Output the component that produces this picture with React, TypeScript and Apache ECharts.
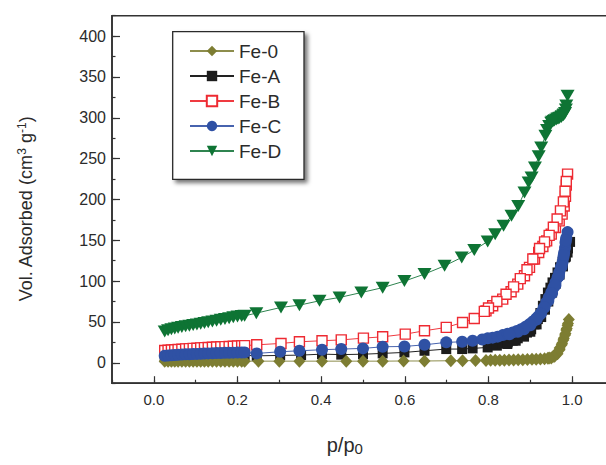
import React, { useEffect, useRef } from "react";
import * as echarts from "echarts";

// ---- Data ----
const seriesNames = ["Fe-0", "Fe-A", "Fe-B", "Fe-C", "Fe-D"];

const pFe0 = [0.026,0.034,0.042,0.05,0.058,0.067,0.076,0.085,0.094,0.103,0.112,0.121,0.13,0.14,0.15,0.16,0.17,0.18,0.19,0.2,0.21,0.217,0.25,0.3,0.348,0.402,0.46,0.5,0.547,0.597,0.647,0.71,0.738,0.769,0.794,0.805,0.816,0.827,0.838,0.849,0.86,0.871,0.882,0.893,0.904,0.914,0.924,0.934,0.942,0.95,0.958,0.965,0.97,0.975,0.979,0.983,0.986,0.989,0.992,0.99,0.987,0.984,0.98,0.976,0.97,0.963,0.955,0.945];
const vFe0 = [2,2,2,2,2,2,2,2,2,2,2,2,2,2,2,2,2,2,2,2,2,2,2,2,2,2,2,2,2,2.2,2.2,2.5,2.5,2.7,2.8,3,3,3,3.2,3.3,3.5,3.6,3.8,4,4.2,4.4,4.6,5,5.5,6,8,11,16,22,28,34,40,46,53,48,42,36,30,24,18,12,8,6];

const pFeA = [0.026,0.034,0.042,0.05,0.058,0.067,0.076,0.085,0.094,0.103,0.112,0.121,0.13,0.14,0.15,0.16,0.17,0.18,0.19,0.2,0.21,0.217,0.246,0.302,0.352,0.402,0.448,0.5,0.547,0.599,0.647,0.699,0.737,0.762,0.798,0.82,0.834,0.846,0.858,0.87,0.882,0.892,0.902,0.91,0.918,0.924,0.93,0.936,0.942,0.948,0.953,0.959,0.965,0.971,0.977,0.983,0.989,0.995,0.99,0.985,0.978,0.97,0.961,0.952,0.943,0.935,0.926,0.915,0.9,0.885,0.865,0.845];
const vFeA = [6.5,6.8,7,7.2,7.3,7.5,7.6,7.8,7.9,8,8.1,8.2,8.3,8.4,8.5,8.6,8.7,8.8,8.9,9,9,9.1,8.5,9,9.4,10.6,10,10.5,11.5,12.7,14.7,16.8,16.8,17.6,18.8,21,23.7,25,27,30,33,37,41,47,53.5,61,69.8,78,86,92,98.4,104,110.6,117,123,129,135,148,140,130,118,108,97,86,75,65,56,47,38,32,27,23];

const pFeB = [0.026,0.034,0.042,0.05,0.058,0.067,0.076,0.085,0.094,0.103,0.112,0.121,0.13,0.14,0.15,0.16,0.17,0.18,0.19,0.2,0.21,0.217,0.246,0.304,0.348,0.402,0.448,0.501,0.547,0.601,0.647,0.699,0.738,0.766,0.794,0.81,0.834,0.854,0.87,0.886,0.898,0.91,0.92,0.93,0.939,0.95,0.96,0.969,0.976,0.981,0.984,0.986,0.989,0.986,0.983,0.979,0.972,0.964,0.955,0.945,0.934,0.922,0.906,0.892,0.876,0.86,0.842,0.82,0.8,0.79];
const vFeB = [15,15.3,15.6,16,16.2,16.5,17,17.3,17.6,17.8,18.2,18.5,18.8,19,19.3,19.6,19.8,20,20.3,20.6,20.8,21,22,23.7,25.7,27,28,30.2,31.8,35.1,39.2,43.3,49.4,54.3,63.6,69.8,78,87,96.3,106.5,116.8,127,135,142.4,149.3,157.5,165.7,173.8,182,192,204,217.5,231,222,210,197,186,176,166,156,148,140,127,114,103,93,84,75,67,63];

const pFeC = [0.026,0.034,0.042,0.05,0.058,0.067,0.076,0.085,0.094,0.103,0.112,0.121,0.13,0.14,0.15,0.16,0.17,0.18,0.19,0.2,0.21,0.217,0.246,0.302,0.348,0.402,0.448,0.5,0.547,0.599,0.647,0.699,0.737,0.762,0.785,0.798,0.81,0.822,0.834,0.846,0.858,0.868,0.878,0.888,0.898,0.906,0.914,0.92,0.926,0.932,0.938,0.944,0.95,0.955,0.96,0.965,0.969,0.973,0.977,0.979,0.981,0.983,0.984,0.986,0.989,0.985,0.98,0.975,0.968,0.96,0.952,0.943,0.934,0.925,0.915,0.9,0.885,0.87,0.85];
const vFeC = [8.6,9,9.3,9.6,9.9,10.1,10.3,10.5,10.7,10.9,11.1,11.3,11.5,11.7,11.9,12,12.2,12.3,12.4,12.5,12.6,12.7,11.5,13.5,14.7,16,16.8,17.6,19.6,20,22,25,25.7,27,28.5,29.9,30.8,32,33.9,35.5,37.2,39,41,44,47.4,50.5,54.3,57.5,61.7,67.5,74,80,86,92,98.4,104.5,110.6,117,123,129,135,141,147.4,153,160,150,132,118,106,95,85,76,68,60,53,46,41,38,35];

const pFeD = [0.026,0.034,0.042,0.05,0.058,0.067,0.076,0.085,0.094,0.103,0.112,0.121,0.13,0.14,0.15,0.16,0.17,0.18,0.19,0.2,0.21,0.217,0.245,0.304,0.348,0.396,0.444,0.496,0.547,0.599,0.647,0.695,0.736,0.766,0.798,0.816,0.836,0.855,0.871,0.886,0.896,0.903,0.911,0.92,0.926,0.936,0.94,0.945,0.95,0.956,0.962,0.968,0.974,0.979,0.983,0.986,0.989,0.985,0.98,0.975,0.97,0.965,0.958,0.952];
const vFeD = [38.4,39.8,41,42,43,43.8,44.6,45.3,46.2,47,47.8,48.6,49.5,50.5,51.5,52.6,53.6,54.6,55.7,56.8,57.2,57.5,60.8,67.8,70.6,75.9,80,86,92,100,108.6,118.7,129,138,148.6,157.5,167.7,180,192,208.6,220.8,227,239,253,263.6,278,285,290,294,296,298,299,301,303,306,315,327,310,304,302,300,299,297,295];

const xTickLabels = [0, 0.2, 0.4, 0.6, 0.8, 1.0];
const yTickLabels = [0, 50, 100, 150, 200, 250, 300, 350, 400];

const FONT = "'Liberation Sans', Arial, Helvetica, sans-serif";
const AXIS_COLOR = "#333333";
const TEXT_COLOR = "#2b2b2b";

function zip(xs: number[], ys: number[]) {
  return xs.map((x, i) => [x, ys[i]]);
}

export default function App() {
  const ref = useRef<HTMLDivElement>(null);

  useEffect(() => {
    if (!ref.current) return;
    const chart = echarts.init(ref.current, null, { renderer: "svg" });

    const mkSeries = (
      name: string,
      data: number[][],
      symbol: string,
      symbolSize: any,
      lineColor: string,
      itemStyle: any,
      extra: any = {}
    ) => ({
      name,
      type: "line",
      data,
      symbol,
      symbolSize,
      showAllSymbol: true,
      lineStyle: { color: lineColor, width: 1 },
      itemStyle,
      emphasis: { disabled: true },
      ...extra,
    });

    const option: any = {
      animation: false,
      backgroundColor: "#ffffff",
      grid: {
        left: 112,
        top: 15.7,
        width: 502,
        height: 367.5,
        show: true,
        borderColor: AXIS_COLOR,
        borderWidth: 1.6,
        backgroundColor: "transparent",
        containLabel: false,
        outerBoundsMode: "none",
      },
      xAxis: [
        {
          type: "value",
          min: -0.1,
          max: 1.1,
          interval: 0.1,
          axisLine: { show: true, onZero: false, lineStyle: { color: AXIS_COLOR, width: 1.6 } },
          axisTick: { show: true, inside: true, length: 3.5, lineStyle: { color: AXIS_COLOR, width: 1.2 } },
          axisLabel: {
            show: true,
            margin: 9,
            color: TEXT_COLOR,
            fontFamily: FONT,
            fontSize: 15,
            formatter: (v: number) => {
              const k = Math.round(v * 10);
              if (k < 0 || k > 10 || k % 2 !== 0) return "";
              return (k / 10).toFixed(1);
            },
          },
          splitLine: { show: false },
        },
        {
          type: "value",
          min: -0.1,
          max: 1.1,
          position: "bottom",
          axisLine: { show: false, onZero: false },
          axisTick: {
            show: true,
            inside: true,
            length: 7,
            customValues: xTickLabels,
            lineStyle: { color: AXIS_COLOR, width: 1.2 },
          },
          axisLabel: { show: false },
          splitLine: { show: false },
        },
      ],
      yAxis: [
        {
          type: "value",
          min: -25,
          max: 425,
          interval: 25,
          axisLine: { show: true, onZero: false, lineStyle: { color: AXIS_COLOR, width: 1.6 } },
          axisTick: { show: true, inside: true, length: 3.5, lineStyle: { color: AXIS_COLOR, width: 1.2 } },
          axisLabel: {
            show: true,
            margin: 6,
            color: TEXT_COLOR,
            fontFamily: FONT,
            fontSize: 16,
            formatter: (v: number) => {
              const r = Math.round(v);
              if (r < 0 || r > 400 || r % 50 !== 0) return "";
              return String(r);
            },
          },
          splitLine: { show: false },
        },
        {
          type: "value",
          min: -25,
          max: 425,
          position: "left",
          axisLine: { show: false, onZero: false },
          axisTick: {
            show: true,
            inside: true,
            length: 8,
            customValues: yTickLabels,
            lineStyle: { color: AXIS_COLOR, width: 1.2 },
          },
          axisLabel: { show: false },
          splitLine: { show: false },
        },
      ],
      legend: {
        orient: "vertical",
        left: 189,
        top: 41.5,
        padding: 0,
        itemWidth: 44,
        itemHeight: 13,
        itemGap: 6,
        selectedMode: false,
        textStyle: { fontFamily: FONT, fontSize: 19, color: TEXT_COLOR, lineHeight: 19 },
        data: seriesNames,
        z: 10,
      },
      graphic: [
        {
          type: "rect",
          z: 5,
          shape: { x: 172.7, y: 31.7, width: 131.3, height: 147.6 },
          style: {
            fill: "#ffffff",
            stroke: "#2a2a2a",
            lineWidth: 1.3,
            shadowBlur: 4,
            shadowOffsetX: 3,
            shadowOffsetY: 3,
            shadowColor: "rgba(0,0,0,0.55)",
          },
        },
        {
          type: "text",
          z: 10,
          x: 26,
          y: 209,
          rotation: Math.PI / 2,
          style: {
            text: "{a|Vol. Adsorbed (cm}{s|3}{a| g}{s|-1}{a|)}",
            align: "center",
            verticalAlign: "middle",
            fill: TEXT_COLOR,
            rich: {
              a: { fontFamily: FONT, fontSize: 18, lineHeight: 20, fill: TEXT_COLOR },
              s: { fontFamily: FONT, fontSize: 12, lineHeight: 20, verticalAlign: "top", fill: TEXT_COLOR, padding: [0, 0, 6, 0] },
            },
          },
        },
        {
          type: "text",
          z: 10,
          x: 326.7,
          y: 445,
          style: {
            text: "{a|p/p}{b|0}",
            align: "left",
            verticalAlign: "middle",
            fill: TEXT_COLOR,
            rich: {
              a: { fontFamily: FONT, fontSize: 20, lineHeight: 22, fill: TEXT_COLOR },
              b: { fontFamily: FONT, fontSize: 15, lineHeight: 22, verticalAlign: "bottom", fill: TEXT_COLOR, padding: [6, 0, 0, 0] },
            },
          },
        },
      ],
      series: [
        mkSeries("Fe-A", zip(pFeA, vFeA), "rect", 10, "#222222", { color: "#1c1c1c" }, { z: 2 }),
        mkSeries("Fe-B", zip(pFeB, vFeB), "rect", 10, "#ef3a40", { color: "#ffffff", borderColor: "#ee2a32", borderWidth: 1.4 }, { z: 3 }),
        mkSeries("Fe-0", zip(pFe0, vFe0), "diamond", [12, 13], "#8d8d4c", { color: "#7d7d32" }, { z: 4 }),
        mkSeries("Fe-C", zip(pFeC, vFeC), "circle", 12, "#4763ae", { color: "#2f51a4" }, { z: 5 }),
        mkSeries("Fe-D", zip(pFeD, vFeD), "triangle", [14, 12], "#2f8450", { color: "#0e7434" }, { z: 6, symbolRotate: 180 }),
      ],
    };

    chart.setOption(option);
    return () => {
      chart.dispose();
    };
  }, []);

  return (
    <div
      ref={ref}
      style={{ position: "absolute", left: 0, top: 0, width: 606, height: 465 }}
    />
  );
}
